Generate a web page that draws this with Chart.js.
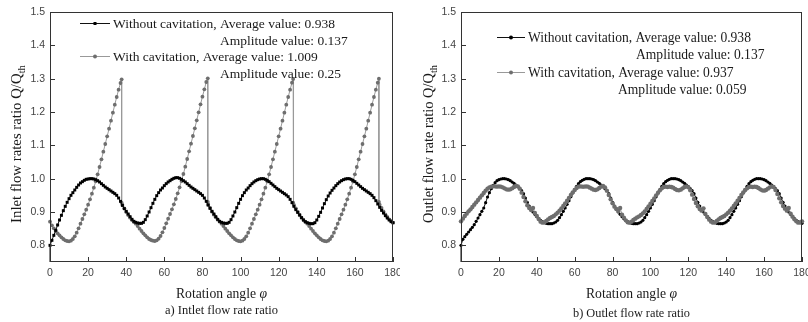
<!DOCTYPE html>
<html><head><meta charset="utf-8">
<script src="https://cdn.jsdelivr.net/npm/chart.js@4.4.1/dist/chart.umd.min.js"></script>
<style>
html,body{margin:0;padding:0;background:#fff;}
#wrap{position:relative;width:808px;height:322px;overflow:hidden;background:#fff;}
canvas{position:absolute;top:0;}
#c1{left:0}
#c2{left:400px}
</style></head><body>
<div id="wrap"><canvas id="c1" width="400" height="322"></canvas><canvas id="c2" width="408" height="322"></canvas></div>
<script>
const angle = [0,1,2,3,4,5,6,7,8,9,10,11,12,13,14,15,16,17,18,19,20,21,22,23,24,25,26,27,28,29,30,31,32,33,34,35,36,37,38,39,40,41,42,43,44,45,46,47,48,49,50,51,52,53,54,55,56,57,58,59,60,61,62,63,64,65,66,67,68,69,70,71,72,73,74,75,76,77,78,79,80,81,82,83,84,85,86,87,88,89,90,91,92,93,94,95,96,97,98,99,100,101,102,103,104,105,106,107,108,109,110,111,112,113,114,115,116,117,118,119,120,121,122,123,124,125,126,127,128,129,130,131,132,133,134,135,136,137,138,139,140,141,142,143,144,145,146,147,148,149,150,151,152,153,154,155,156,157,158,159,160,161,162,163,164,165,166,167,168,169,170,171,172,173,174,175,176,177,178,179,180];

// value of the "without cavitation" curves at the very first sample (below the axis)
const withoutStartValue = 0.70;

const inletWithout = [
0.800,0.815,0.830,0.845,0.861,0.876,0.890,0.904,0.917,0.929,
0.940,0.950,0.958,0.966,0.974,0.981,0.987,0.991,0.995,0.998,
0.999,1.000,1.000,0.999,0.997,0.994,0.990,0.985,0.980,0.975,
0.971,0.967,0.963,0.959,0.955,0.950,0.942,0.932,0.920,0.910,
0.902,0.894,0.886,0.878,0.872,0.869,0.867,0.866,0.866,0.869,
0.877,0.888,0.900,0.913,0.926,0.938,0.949,0.958,0.966,0.972,
0.979,0.985,0.990,0.994,0.998,1.001,1.003,1.003,1.001,0.998,
0.994,0.990,0.985,0.980,0.975,0.971,0.967,0.963,0.959,0.955,
0.950,0.942,0.932,0.921,0.911,0.902,0.894,0.886,0.878,0.872,
0.869,0.867,0.866,0.866,0.869,0.877,0.888,0.900,0.913,0.926,
0.938,0.949,0.958,0.966,0.972,0.979,0.985,0.990,0.994,0.997,
0.999,1.000,1.000,0.998,0.995,0.991,0.986,0.981,0.976,0.971,
0.967,0.963,0.959,0.955,0.951,0.946,0.938,0.928,0.917,0.907,
0.899,0.891,0.883,0.876,0.871,0.868,0.866,0.865,0.865,0.868,
0.876,0.887,0.899,0.912,0.925,0.937,0.948,0.957,0.965,0.972,
0.979,0.985,0.990,0.994,0.997,0.999,1.000,1.000,0.998,0.995,
0.991,0.986,0.981,0.976,0.971,0.967,0.963,0.959,0.955,0.950,
0.943,0.934,0.924,0.914,0.905,0.897,0.889,0.882,0.876,0.871,0.868];

const inletWithCav = [
0.871,0.860,0.851,0.843,0.836,0.830,0.824,0.819,0.815,0.813,
0.812,0.814,0.819,0.827,0.838,0.851,0.865,0.879,0.893,0.907,
0.922,0.938,0.955,0.973,0.992,1.013,1.035,1.058,1.081,1.104,
1.127,1.150,1.174,1.198,1.222,1.245,1.267,1.287,0.921,0.911,
0.900,0.891,0.883,0.876,0.870,0.865,0.858,0.850,0.843,0.836,
0.830,0.824,0.819,0.816,0.814,0.813,0.815,0.820,0.828,0.839,
0.852,0.866,0.880,0.894,0.908,0.923,0.939,0.956,0.974,0.993,
1.014,1.036,1.059,1.082,1.105,1.128,1.151,1.175,1.199,1.223,
1.246,1.268,1.290,0.922,0.912,0.901,0.892,0.884,0.877,0.871,
0.865,0.858,0.850,0.843,0.836,0.830,0.824,0.819,0.815,0.813,
0.812,0.814,0.819,0.827,0.838,0.851,0.865,0.879,0.893,0.907,
0.922,0.938,0.955,0.973,0.992,1.013,1.035,1.058,1.081,1.104,
1.127,1.150,1.174,1.198,1.222,1.245,1.267,1.288,0.921,0.911,
0.900,0.891,0.883,0.876,0.870,0.865,0.858,0.850,0.843,0.836,
0.830,0.824,0.819,0.815,0.813,0.812,0.814,0.819,0.827,0.838,
0.851,0.865,0.879,0.893,0.907,0.922,0.938,0.955,0.973,0.992,
1.013,1.035,1.058,1.081,1.104,1.127,1.150,1.174,1.198,1.222,
1.245,1.267,1.288,0.922,0.912,0.902,0.893,0.885,0.878,0.873,0.868];

const inletDropAngle = [37.6, 82.8, 127.6, 172.6];
const inletDropPeak  = [1.298, 1.301, 1.299, 1.300];
const inletDropLow   = [0.928, 0.930, 0.928, 0.930];

const outletWithout = [
0.800,0.818,0.826,0.833,0.840,0.847,0.854,0.862,0.872,0.882,
0.892,0.902,0.912,0.928,0.945,0.958,0.970,0.980,0.988,0.994,
0.997,0.999,1.000,1.000,0.999,0.997,0.994,0.990,0.986,0.981,
0.976,0.970,0.964,0.955,0.942,0.929,0.918,0.908,0.900,0.893,
0.886,0.880,0.875,0.871,0.868,0.866,0.865,0.865,0.865,0.867,
0.870,0.875,0.883,0.892,0.902,0.912,0.923,0.934,0.946,0.957,
0.967,0.977,0.985,0.991,0.995,0.998,1.000,1.000,1.000,0.999,
0.997,0.994,0.990,0.986,0.981,0.976,0.970,0.964,0.955,0.942,
0.929,0.918,0.908,0.900,0.893,0.886,0.880,0.875,0.871,0.868,
0.866,0.865,0.865,0.865,0.867,0.870,0.875,0.883,0.892,0.902,
0.912,0.923,0.934,0.946,0.957,0.967,0.977,0.985,0.991,0.995,
0.998,1.000,1.000,1.000,0.999,0.997,0.994,0.990,0.986,0.981,
0.976,0.970,0.964,0.955,0.942,0.929,0.918,0.908,0.900,0.893,
0.886,0.880,0.875,0.871,0.868,0.866,0.865,0.865,0.865,0.867,
0.870,0.875,0.883,0.892,0.902,0.912,0.923,0.934,0.946,0.957,
0.967,0.977,0.985,0.991,0.995,0.998,1.000,1.000,1.000,0.999,
0.997,0.994,0.990,0.986,0.981,0.976,0.970,0.964,0.955,0.942,
0.929,0.918,0.908,0.900,0.893,0.886,0.880,0.875,0.871,0.868,0.866];

const outletWithCav = [
0.872,0.880,0.888,0.895,0.902,0.908,0.915,0.922,0.929,0.936,
0.943,0.950,0.957,0.964,0.970,0.974,0.976,0.977,0.977,0.976,
0.977,0.976,0.974,0.971,0.968,0.967,0.968,0.971,0.975,0.978,
0.977,0.970,0.958,0.945,0.932,0.920,0.912,0.906,0.912,0.897,
0.888,0.879,0.871,0.868,0.869,0.873,0.878,0.882,0.885,0.888,
0.893,0.898,0.904,0.911,0.918,0.926,0.934,0.942,0.951,0.959,
0.966,0.972,0.976,0.977,0.976,0.976,0.977,0.976,0.973,0.970,
0.967,0.966,0.968,0.972,0.976,0.978,0.974,0.964,0.951,0.938,
0.926,0.916,0.909,0.903,0.912,0.892,0.883,0.875,0.869,0.868,
0.871,0.876,0.880,0.884,0.887,0.891,0.896,0.902,0.909,0.917,
0.925,0.933,0.941,0.950,0.958,0.965,0.971,0.975,0.976,0.975,
0.976,0.975,0.973,0.969,0.966,0.965,0.967,0.971,0.975,0.977,
0.974,0.965,0.952,0.939,0.927,0.917,0.909,0.904,0.911,0.894,
0.885,0.877,0.871,0.868,0.869,0.873,0.878,0.882,0.885,0.888,
0.893,0.898,0.904,0.911,0.918,0.926,0.934,0.942,0.951,0.959,
0.966,0.971,0.975,0.976,0.975,0.976,0.975,0.972,0.968,0.965,
0.964,0.966,0.970,0.974,0.977,0.975,0.966,0.954,0.941,0.929,
0.918,0.910,0.904,0.912,0.895,0.886,0.878,0.872,0.868,0.869,0.872];

const xTicks = [0,20,40,60,80,100,120,140,160,180];
const yTicks = [0.8,0.9,1.0,1.1,1.2,1.3,1.4,1.5];

const inletLegend  = ['Without cavitation, Average value: 0.938','Amplitude value: 0.137','With cavitation, Average value: 1.009','Amplitude value: 0.25'];
const outletLegend = ['Without cavitation, Average value: 0.938','Amplitude value: 0.137','With cavitation, Average value: 0.937','Amplitude value: 0.059'];

const xTitle = 'Rotation angle ';
const xTitleSym = 'φ';
const captions = ['a) Intlet flow rate ratio','b) Outlet flow rate ratio'];
const yTitles = ['Inlet flow rates ratio Q/Q','Outlet flow rate ratio Q/Q'];
const ySub = 'th';

function pts(xs, ys, start){
  const out = [];
  if (start !== undefined) out.push({x:xs[0], y:start});
  xs.forEach((x,i)=>out.push({x:x, y:ys[i]}));
  return out;
}
function ptsWithDrops(xs, ys, dx, dp, dl){
  const out = [];
  for (let i=0;i<xs.length;i++){
    out.push({x:xs[i], y:ys[i]});
    for (let k=0;k<dx.length;k++){
      if (dx[k] > xs[i] && (i+1>=xs.length || dx[k] < xs[i+1])){
        out.push({x:dx[k], y:dp[k]});
        out.push({x:dx[k], y:dl[k]});
      }
    }
  }
  return out;
}

const SERIF = '"Liberation Serif", "Times New Roman", serif';
const SANS = '"Liberation Sans", Arial, sans-serif';

// font size so that `text` is `target` px wide
function fitSize(ctx, text, target, style){
  ctx.font = (style||'') + ' 20px ' + SERIF;
  const w = ctx.measureText(text).width;
  return 20 * target / w;
}

function decor(cfg){
  return {
    id:'decor',
    afterDraw(chart){
      const ctx = chart.ctx, a = chart.chartArea, xs = chart.scales.x, ys = chart.scales.y;
      ctx.save();
      ctx.strokeStyle = '#333'; ctx.lineWidth = 1;
      ctx.strokeRect(Math.round(a.left)+0.5, Math.round(a.top)+0.5, Math.round(a.right-a.left)-1, Math.round(a.bottom-a.top)-1);
      ctx.beginPath();
      xTicks.forEach(v=>{ const px = Math.round(xs.getPixelForValue(v))+0.5; ctx.moveTo(px, a.bottom); ctx.lineTo(px, a.bottom-5); });
      yTicks.forEach(v=>{ const py = Math.round(ys.getPixelForValue(v))+0.5; ctx.moveTo(a.left, py); ctx.lineTo(a.left+5, py); });
      ctx.stroke();

      // legend
      const L = cfg.legend;
      const rows = L.rows;
      ctx.strokeStyle = '#111'; ctx.lineWidth = 1;
      ctx.beginPath(); ctx.moveTo(L.s0, rows[0]+0.5); ctx.lineTo(L.s1, rows[0]+0.5); ctx.stroke();
      ctx.fillStyle = '#000';
      if (cfg.blackStyle === 'rect') ctx.fillRect((L.s0+L.s1)/2-1.5, rows[0]-1, 3, 3);
      else { ctx.beginPath(); ctx.arc((L.s0+L.s1)/2, rows[0]+0.5, 2, 0, Math.PI*2); ctx.fill(); }
      ctx.strokeStyle = '#999';
      ctx.beginPath(); ctx.moveTo(L.s0, rows[2]+0.5); ctx.lineTo(L.s1, rows[2]+0.5); ctx.stroke();
      ctx.fillStyle = '#6e6e6e';
      ctx.beginPath(); ctx.arc((L.s0+L.s1)/2, rows[2]+0.5, 2, 0, Math.PI*2); ctx.fill();

      const ls = fitSize(ctx, cfg.legendText[0], L.w0);
      ctx.font = ls.toFixed(2) + 'px ' + SERIF;
      ctx.textBaseline = 'middle'; ctx.textAlign = 'left';
      ctx.fillStyle = '#1a1a1a';
      cfg.legendText.forEach((t,i)=>{ ctx.fillText(t, L.tx[i], rows[i]+1); });

      // y title with subscript
      ctx.save();
      ctx.translate(cfg.yTitleX, cfg.yTitleY);
      ctx.rotate(-Math.PI/2);
      ctx.textBaseline = 'alphabetic'; ctx.textAlign = 'left';
      ctx.font = '20px ' + SERIF;
      let w1 = ctx.measureText(cfg.yTitle).width;
      ctx.font = '14.4px ' + SERIF;
      let w2 = ctx.measureText(ySub).width;
      const ysz = 20 * cfg.yLen / (w1 + w2);
      ctx.font = ysz.toFixed(2) + 'px ' + SERIF;
      w1 = ctx.measureText(cfg.yTitle).width;
      ctx.font = (ysz*0.72).toFixed(2) + 'px ' + SERIF;
      w2 = ctx.measureText(ySub).width;
      const st = -(w1+w2)/2;
      ctx.fillStyle = '#1a1a1a';
      ctx.font = ysz.toFixed(2) + 'px ' + SERIF;
      ctx.fillText(cfg.yTitle, st, ysz*0.35);
      ctx.font = (ysz*0.72).toFixed(2) + 'px ' + SERIF;
      ctx.fillText(ySub, st+w1, ysz*0.35 + ysz*0.28);
      ctx.restore();

      // x title
      const cx = (a.left + a.right)/2;
      ctx.fillStyle = '#1a1a1a';
      ctx.textBaseline = 'middle'; ctx.textAlign = 'left';
      ctx.font = '20px ' + SERIF;
      let wa = ctx.measureText(xTitle).width;
      ctx.font = 'italic 20px ' + SERIF;
      let wb = ctx.measureText(xTitleSym).width;
      const xsz = 20 * cfg.xLen / (wa + wb);
      ctx.font = xsz.toFixed(2) + 'px ' + SERIF;
      wa = ctx.measureText(xTitle).width;
      ctx.font = 'italic ' + xsz.toFixed(2) + 'px ' + SERIF;
      wb = ctx.measureText(xTitleSym).width;
      ctx.font = xsz.toFixed(2) + 'px ' + SERIF;
      ctx.fillText(xTitle, cx-(wa+wb)/2, cfg.xTitleY);
      ctx.font = 'italic ' + xsz.toFixed(2) + 'px ' + SERIF;
      ctx.fillText(xTitleSym, cx-(wa+wb)/2+wa, cfg.xTitleY);

      const csz = fitSize(ctx, cfg.caption, cfg.capLen);
      ctx.font = csz.toFixed(2) + 'px ' + SERIF;
      ctx.textAlign = 'center';
      ctx.fillText(cfg.caption, cx, cfg.captionY);
      ctx.restore();
    }
  };
}

function makeChart(id, datasets, cfg){
  return new Chart(document.getElementById(id), {
    type:'line',
    data:{datasets:datasets},
    options:{
      responsive:false, animation:false, devicePixelRatio:1,
      layout:{padding:{left:0, top:12, right:cfg.padRight, bottom:0}},
      plugins:{legend:{display:false}, tooltip:{enabled:false}},
      elements:{line:{tension:0}},
      scales:{
        x:{type:'linear', min:0, max:180,
           grid:{display:false, drawTicks:false}, border:{display:false},
           ticks:{font:{family:SANS, size:10.5}, color:'#444', padding:5, maxRotation:0, autoSkip:false, callback:v=>String(v)},
           afterBuildTicks:s=>{ s.ticks = xTicks.map(v=>({value:v})); },
           afterFit:s=>{ s.height = 60; s.paddingLeft = 0; s.paddingRight = 0; }},
        y:{type:'linear', min:0.75, max:1.5,
           grid:{display:false, drawTicks:false}, border:{display:false},
           ticks:{font:{family:SANS, size:10.5}, color:'#444', padding:5, autoSkip:false, callback:v=>Number(v).toFixed(1)},
           afterBuildTicks:s=>{ s.ticks = yTicks.map(v=>({value:v})); },
           afterFit:s=>{ s.width = cfg.yWidth; s.paddingTop = 0; s.paddingBottom = 0; }}
      }
    },
    plugins:[decor(cfg)]
  });
}

const clipBox = {left:4, top:4, right:4, bottom:0};

makeChart('c1', [
  {label:'Without cavitation', data:pts(angle, inletWithout, withoutStartValue), order:0, clip:clipBox,
   borderColor:'#111', borderWidth:1, pointStyle:'rect', pointRadius:2.1, pointBackgroundColor:'#000', pointBorderWidth:0},
  {label:'With cavitation', data:ptsWithDrops(angle, inletWithCav, inletDropAngle, inletDropPeak, inletDropLow), order:1, clip:clipBox,
   borderColor:'#9a9a9a', borderWidth:1, pointStyle:'circle', pointRadius:1.9, pointBackgroundColor:'#6e6e6e', pointBorderWidth:0}
], {
  padRight:7, yWidth:50, blackStyle:'rect',
  legend:{s0:80, s1:110, rows:[23,40,56,73], tx:[113,220,113,220], w0:222},
  legendText:inletLegend,
  yTitle:yTitles[0], yLen:158, yTitleX:16, yTitleY:144,
  xLen:91, xTitleY:294, caption:captions[0], capLen:113, captionY:311
});

makeChart('c2', [
  {label:'Without cavitation', data:pts(angle, outletWithout, withoutStartValue), order:1, clip:clipBox,
   borderColor:'#111', borderWidth:1, pointStyle:'circle', pointRadius:1.6, pointBackgroundColor:'#000', pointBorderWidth:0},
  {label:'With cavitation', data:pts(angle, outletWithCav), order:0, clip:clipBox,
   borderColor:'#9a9a9a', borderWidth:1, pointStyle:'circle', pointRadius:2.2, pointBackgroundColor:'#6e6e6e', pointBorderWidth:0}
], {
  padRight:6, yWidth:61, blackStyle:'circle',
  legend:{s0:97, s1:125, rows:[37,54,72,89], tx:[128,236,128,218], w0:223},
  legendText:outletLegend,
  yTitle:yTitles[1], yLen:158, yTitleX:28, yTitleY:144,
  xLen:91, xTitleY:294, caption:captions[1], capLen:117, captionY:314
});
</script>
</body></html>
